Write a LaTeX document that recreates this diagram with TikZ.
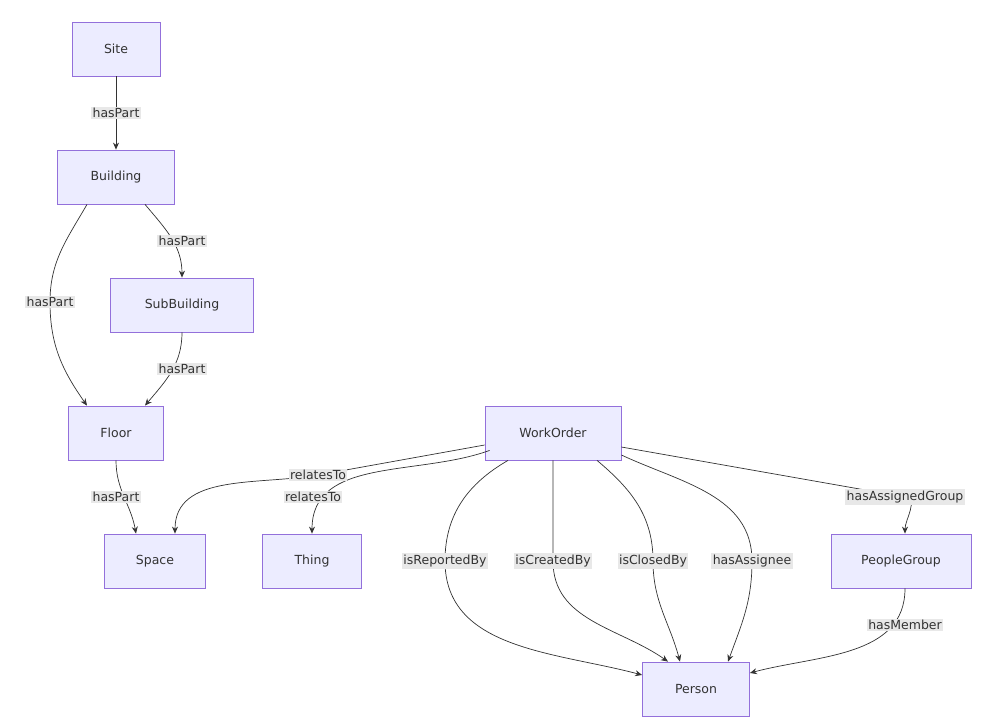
\documentclass[tikz,border=0pt]{standalone}
\usepackage{fontspec}
\setmainfont{DejaVu Sans}
\usetikzlibrary{calc,arrows.meta}
\definecolor{nfill}{HTML}{ECECFF}
\definecolor{nline}{HTML}{9370DB}
\definecolor{lbl}{HTML}{E8E8E8}
\definecolor{ed}{HTML}{333333}
\begin{document}
\begin{tikzpicture}[x=1pt,y=-1pt,
  box/.style={draw=nline,fill=nfill,line width=0.8pt,minimum height=54pt,inner sep=0pt,text=ed,font=\fontsize{12.5}{15}\selectfont},
  lab/.style={fill=lbl,inner sep=1.5pt,text=ed,font=\fontsize{12.5}{15}\selectfont},
  edge/.style={draw=ed,line width=0.7pt,-{Stealth[length=7pt,width=6pt]}}]
\useasboundingbox (0,0) rectangle (995,725);
\node[box,minimum width=88pt] (site) at (116,49) {Site};
\node[box,minimum width=117pt] (bldg) at (116,177) {Building};
\node[box,minimum width=143pt] (sub) at (182,305) {SubBuilding};
\node[box,minimum width=95pt] (floor) at (116,433) {Floor};
\node[box,minimum width=101pt] (space) at (155,561) {Space};
\node[box,minimum width=99pt] (thing) at (312,561) {Thing};
\node[box,minimum width=136pt] (wo) at (553,433) {WorkOrder};
\node[box,minimum width=140pt] (pg) at (901,561) {PeopleGroup};
\node[box,minimum width=107pt] (person) at (696,689) {Person};

\coordinate (l1) at (116,113);
\coordinate (l2) at (50,302);
\coordinate (l3) at (182,241);
\coordinate (l4) at (182,369);
\coordinate (l5) at (116,497);
\coordinate (l6) at (318,475);
\coordinate (l7) at (313,497);
\coordinate (l8) at (445,561);
\coordinate (l9) at (553,561);
\coordinate (l10) at (653,561);
\coordinate (l11) at (752,561);
\coordinate (l12) at (905,497);
\coordinate (l13) at (905,625);

\draw[edge] (site) -- (bldg);
\draw[edge] ($(bldg.south)+(-29,0)$) to[out=-120,in=90] (l2) to[out=-90,in=125] ($(floor.north)+(-29,0)$);
\draw[edge] ($(bldg.south)+(29,0)$) to[out=-50,in=90] ($(sub.north)$);
\draw[edge] (sub.south) to[out=-90,in=50] ($(floor.north)+(29,0)$);
\draw[edge] (floor.south) to[out=-90,in=100] ($(space.north)+(-19,0)$);
\draw[edge] ($(wo.west)+(0,12)$) -- (l6) to[out=190,in=90] ($(space.north)+(20,0)$);
\draw[edge] ($(wo.south west)+(5,-10)$) to[out=200,in=90] (thing.north);
\draw[edge] ($(wo.south)+(-45,0)$) to[out=-150,in=90] (l8) to[out=-90,in=165] ($(person.west)+(0,-14)$);
\draw[edge] (wo.south) -- (l9) to[out=-90,in=145] ($(person.north)+(-28,0)$);
\draw[edge] ($(wo.south)+(44,0)$) to[out=-40,in=90] (l10) to[out=-90,in=105] ($(person.north)+(-16,0)$);
\draw[edge] ($(wo.east)+(0,22)$) to[out=-25,in=90] (l11) to[out=-90,in=70] ($(person.north)+(32,0)$);
\draw[edge] ($(wo.east)+(0,14)$) -- (l12) to[out=-10,in=90] ($(pg.north)+(4,0)$);
\draw[edge] ($(pg.south)+(4,0)$) to[out=-90,in=15] ($(person.east)+(0,-16)$);

\node[lab] (t1) at (l1) {hasPart};
\node[lab] (t2) at (l2) {hasPart};
\node[lab] (t3) at (l3) {hasPart};
\node[lab] (t4) at (l4) {hasPart};
\node[lab] (t5) at (l5) {hasPart};
\node[lab] (t6) at (l6) {relatesTo};
\node[lab] (t7) at (l7) {relatesTo};
\node[lab] (t8) at (l8) {isReportedBy};
\node[lab] (t9) at (l9) {isCreatedBy};
\node[lab] (t10) at (l10) {isClosedBy};
\node[lab] (t11) at (l11) {hasAssignee};
\node[lab] (t12) at (l12) {hasAssignedGroup};
\node[lab] (t13) at (l13) {hasMember};
\end{tikzpicture}
\end{document}
